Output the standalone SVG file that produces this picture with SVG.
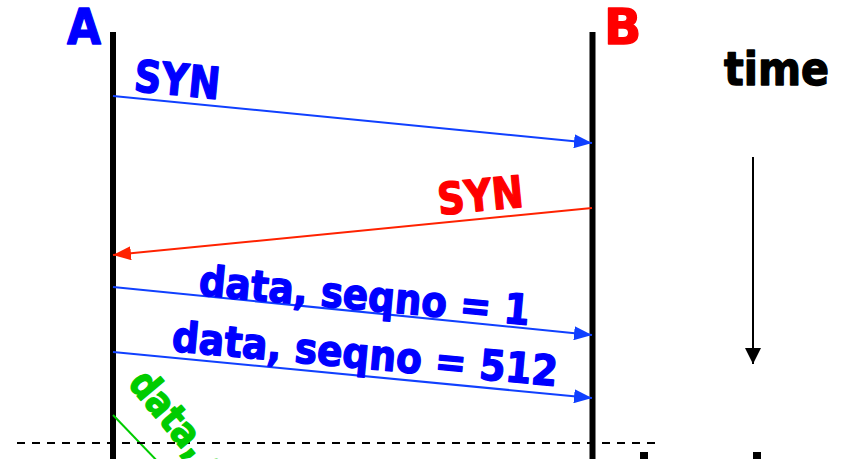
<svg xmlns="http://www.w3.org/2000/svg" width="843" height="459" viewBox="0 0 843 459">
<style>
text{font-family:"DejaVu Sans","Verdana",sans-serif;font-weight:bold;stroke-width:1.4;stroke-linejoin:round}
.life{stroke:#000;stroke-width:6}
.msg{stroke-width:2;fill:none}
.blue{fill:#0000ff;stroke:#0000ff}
.red{fill:#ff0000;stroke:#ff0000}
.green{fill:#00cc00;stroke:#00cc00}
.black{fill:#000;stroke:#000}
</style>
<defs>
<marker id="hb" markerUnits="userSpaceOnUse" markerWidth="18" markerHeight="14" refX="18" refY="7" orient="auto"><path d="M0,0 L18,7 L0,14 z" fill="#1040ff"/></marker>
<marker id="hr" markerUnits="userSpaceOnUse" markerWidth="18" markerHeight="14" refX="18" refY="7" orient="auto"><path d="M0,0 L18,7 L0,14 z" fill="#ff2200"/></marker>
<marker id="hk" markerUnits="userSpaceOnUse" markerWidth="16" markerHeight="16" refX="16" refY="8" orient="auto"><path d="M0,0 L16,8 L0,16 z" fill="#000"/></marker>
</defs>
<rect width="843" height="459" fill="#fff"/>
<g id="nodeA">
<text x="67" y="44" font-size="49" class="blue" textLength="34" lengthAdjust="spacingAndGlyphs">A</text>
<line class="life" x1="113" y1="32" x2="113" y2="459"/>
</g>
<g id="nodeB">
<text x="604" y="44" font-size="49" class="red">B</text>
<line class="life" x1="592.5" y1="32" x2="592.5" y2="459"/>
</g>
<g id="time">
<text x="724" y="85" font-size="46" class="black" textLength="105" lengthAdjust="spacingAndGlyphs">time</text>
<line x1="753" y1="157" x2="753" y2="364" stroke="#000" stroke-width="2" marker-end="url(#hk)"/>
</g>
<g id="connectors">
<line class="msg" stroke="#1040ff" x1="113" y1="96" x2="592" y2="143" marker-end="url(#hb)"/>
<line class="msg" stroke="#ff2200" x1="592" y1="208" x2="113" y2="255" marker-end="url(#hr)"/>
<line class="msg" stroke="#1040ff" x1="113" y1="287" x2="592" y2="335" marker-end="url(#hb)"/>
<line class="msg" stroke="#1040ff" x1="113" y1="352" x2="592" y2="398" marker-end="url(#hb)"/>
<line class="msg" stroke="#00cc00" x1="113" y1="415" x2="162" y2="466"/>
<line x1="17" y1="443" x2="656" y2="443" stroke="#000" stroke-width="2" stroke-dasharray="8 7"/>
</g>
<g id="labels">
<text transform="translate(133,91) rotate(5.5)" font-size="44" class="blue" textLength="86" lengthAdjust="spacingAndGlyphs">SYN</text>
<text transform="translate(439,215) rotate(-5.6)" font-size="44" class="red" textLength="86" lengthAdjust="spacingAndGlyphs">SYN</text>
<text transform="translate(198,295) rotate(5.2)" font-size="42" class="blue" textLength="332" lengthAdjust="spacingAndGlyphs">data, seqno = 1</text>
<text transform="translate(171,351) rotate(5.2)" font-size="42" class="blue" textLength="387" lengthAdjust="spacingAndGlyphs">data, seqno = 512</text>
<text transform="translate(127,384) rotate(50)" font-size="40" class="green" textLength="228" lengthAdjust="spacingAndGlyphs">data, seqno</text>
</g>
<rect x="640" y="452" width="8" height="8" fill="#000"/>
<rect x="753" y="452" width="8" height="8" fill="#000"/>
</svg>
